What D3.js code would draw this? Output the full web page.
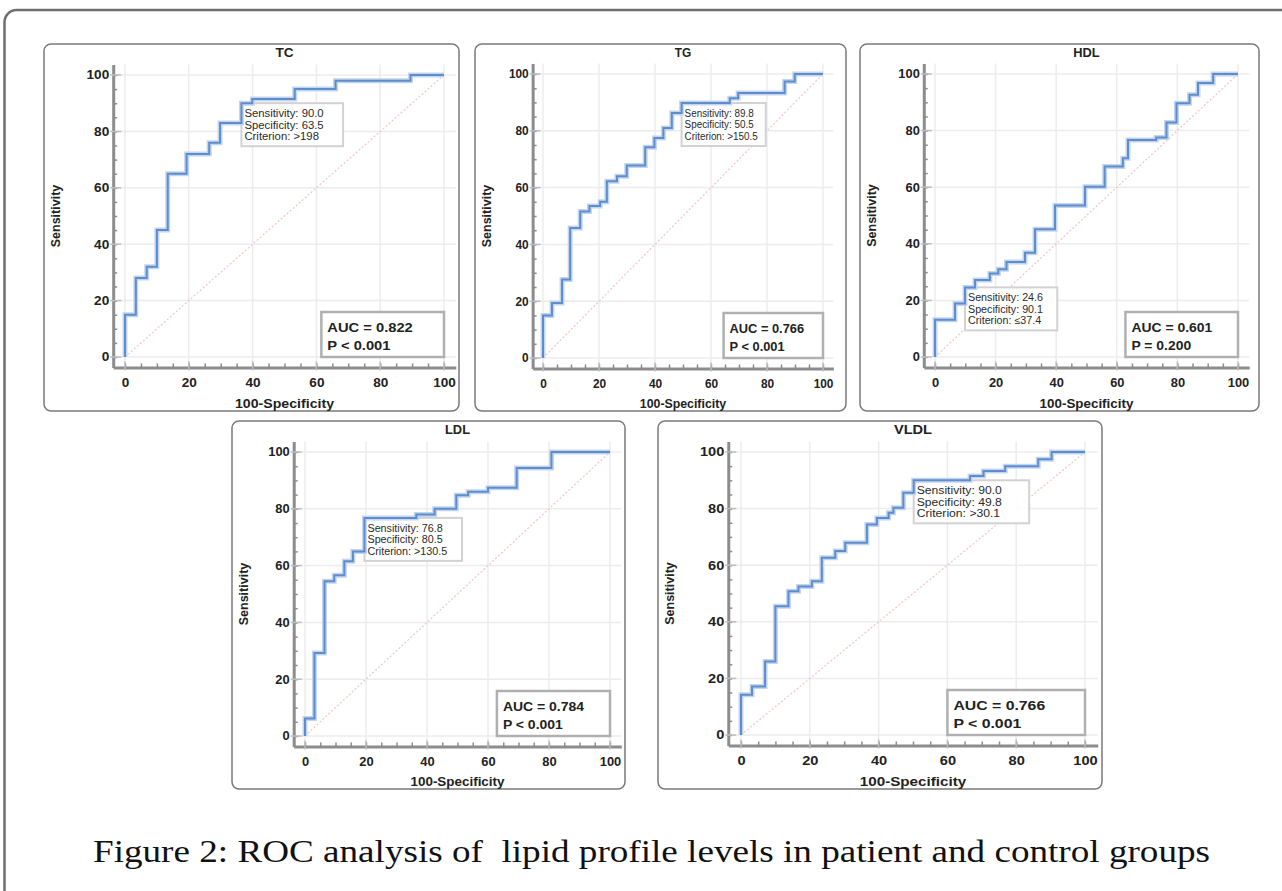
<!DOCTYPE html>
<html>
<head>
<meta charset="utf-8">
<script src="https://cdn.jsdelivr.net/npm/d3@7"></script>
<style>
  body { margin: 0; background: #fff; }
  svg { display: block; }
  text { font-family: "Liberation Sans", Arial, sans-serif; }
  text.caption { font-family: "Liberation Serif", "Times New Roman", serif; white-space: pre; }
</style>
</head>
<body>
<script>
// ROC step corners: x = 100-Specificity, y = Sensitivity
var tcX = [0, 0, 3.4, 6.8, 10, 13.4, 19.3, 26.4, 29.8, 36.5, 39.9, 53.2, 66, 89.5, 100];
var tcY = [0, 15, 28, 32, 45, 65, 72, 76, 83, 90, 91.5, 95, 98, 100, 100];

var tgX = [0, 0, 3.2, 6.8, 9.7, 13.3, 16.6, 20.4, 22.8, 26.4, 29.9, 36.5, 39.8, 43, 46, 49.5, 66.7, 69.7, 86.3, 89.9, 100];
var tgY = [0, 15, 19.4, 27.6, 45.8, 51.6, 53.5, 55, 62.2, 64, 67.8, 74.2, 77.5, 81, 86.3, 89.8, 91.5, 93.3, 97.4, 100, 100];

var hdlX = [0, 0, 6.6, 9.9, 13.2, 18.1, 20.9, 23.6, 29.7, 33, 39.6, 49.5, 56, 62, 63.7, 73, 76.4, 79.7, 84, 86.8, 91.8, 100];
var hdlY = [0, 13.2, 18.9, 24.6, 27.2, 29.5, 31, 33.6, 36.8, 45.1, 53.5, 60.2, 67.3, 70.2, 76.7, 77.6, 82.9, 89.7, 92.7, 96.8, 100, 100];

var ldlX = [0, 0, 3.1, 6.4, 9.6, 12.9, 15.7, 19.5, 36.5, 42.5, 49.6, 53.5, 60, 69.4, 80.8, 100];
var ldlY = [0, 6.2, 29.2, 54.5, 56.6, 61.5, 65, 76.8, 78, 80, 84.8, 86, 87.4, 94.4, 100, 100];

var vldlX = [0, 0, 3.2, 7, 10, 13.8, 16.7, 20.6, 23.5, 27.4, 30.3, 36.6, 39.5, 42.9, 44.3, 47.2, 50.2, 66.6, 70.5, 76.8, 86.4, 90.3, 100];
var vldlY = [0, 14.2, 17.1, 26, 45.5, 50.8, 52.5, 54.3, 62.6, 65, 67.9, 74.4, 76.7, 78.5, 80.3, 85.6, 90, 91.5, 93.3, 95, 97.4, 100, 100];

var panelNames = ["TC", "TG", "HDL", "LDL", "VLDL"];
var curvesX = [tcX, tgX, hdlX, ldlX, vldlX];
var curvesY = [tcY, tgY, hdlY, ldlY, vldlY];
var aucLabels = ["AUC = 0.822", "AUC = 0.766", "AUC = 0.601", "AUC = 0.784", "AUC = 0.766"];
var pLabels = ["P < 0.001", "P < 0.001", "P = 0.200", "P < 0.001", "P < 0.001"];
// optimal cut-off point on each curve (where the criterion box sits)
var cutX = [36.5, 49.5, 9.9, 19.5, 50.2];
var cutY = [90, 89.8, 24.6, 76.8, 90];
var cutLabels = [
  ["Sensitivity: 90.0", "Specificity: 63.5", "Criterion: >198"],
  ["Sensitivity: 89.8", "Specificity: 50.5", "Criterion: >150.5"],
  ["Sensitivity: 24.6", "Specificity: 90.1", "Criterion: \u226437.4"],
  ["Sensitivity: 76.8", "Specificity: 80.5", "Criterion: >130.5"],
  ["Sensitivity: 90.0", "Specificity: 49.8", "Criterion: >30.1"]
];
var majorTicks = [0, 20, 40, 60, 80, 100];
var minorTicks = d3.range(0, 101, 5);
var caption = "Figure 2: ROC analysis of  lipid profile levels in patient and control groups";

// panel frames and where 0 / 100 land on each plot
var layout = [
  {box: [44, 44, 459, 411],  x0: 125, x1: 444,  y0: 357, y1: 75},
  {box: [475, 44, 846, 411], x0: 543, x1: 823,  y0: 358, y1: 74},
  {box: [860, 44, 1259, 411], x0: 935, x1: 1238, y0: 357, y1: 74},
  {box: [232, 421, 625, 789], x0: 305, x1: 610,  y0: 736, y1: 452},
  {box: [658, 421, 1102, 789], x0: 741, x1: 1085, y0: 735, y1: 452}
];

var W = 1282, H = 891;
var svg = d3.select("body").append("svg").attr("width", W).attr("height", H);

// outer figure frame
svg.append("rect")
  .attr("x", 4.5).attr("y", 10).attr("width", 1320).attr("height", 920)
  .attr("rx", 12).attr("fill", "none").attr("stroke", "#6e6e6e").attr("stroke-width", 2.5);

// stretch horizontal text to the panel's aspect
function stretch(sel, sx) {
  sel.each(function() {
    var w = this.getComputedTextLength();
    d3.select(this).attr("textLength", w * sx).attr("lengthAdjust", "spacingAndGlyphs");
  });
}

function drawPanel(i) {
  var L = layout[i];
  var sx = (L.x1 - L.x0) / (L.y0 - L.y1);
  var ext = 3.7;
  var x = d3.scaleLinear().domain([-ext, 100 + ext])
    .range([L.x0 - ext * (L.x1 - L.x0) / 100, L.x1 + ext * (L.x1 - L.x0) / 100]);
  var y = d3.scaleLinear().domain([-ext, 100 + ext])
    .range([L.y0 + ext * (L.y0 - L.y1) / 100, L.y1 - ext * (L.y0 - L.y1) / 100]);
  var left = x(-ext), right = x(100 + ext), top = y(100 + ext), bottom = y(-ext);

  var g = svg.append("g");

  g.append("rect")
    .attr("x", L.box[0]).attr("y", L.box[1])
    .attr("width", L.box[2] - L.box[0]).attr("height", L.box[3] - L.box[1])
    .attr("rx", 7).attr("fill", "#fff").attr("stroke", "#7a7a7a").attr("stroke-width", 1.5);

  // grid
  g.selectAll(".gx").data(majorTicks).enter().append("line")
    .attr("x1", d => x(d)).attr("x2", d => x(d)).attr("y1", top).attr("y2", bottom)
    .attr("stroke", "#ececec").attr("stroke-width", 1.5);
  g.selectAll(".gy").data(majorTicks).enter().append("line")
    .attr("y1", d => y(d)).attr("y2", d => y(d)).attr("x1", left).attr("x2", right)
    .attr("stroke", "#ececec").attr("stroke-width", 1.5);

  // chance line
  g.append("line")
    .attr("x1", x(0)).attr("y1", y(0)).attr("x2", x(100)).attr("y2", y(100))
    .attr("stroke", "#f0c4c4").attr("stroke-width", 1.2).attr("stroke-dasharray", "2,2");

  // axes
  var xAxis = g.append("g").attr("transform", "translate(0," + bottom + ")")
    .call(d3.axisBottom(x).tickValues(majorTicks).tickSize(0).tickSizeOuter(0).tickPadding(11));
  var xMinor = g.append("g").attr("transform", "translate(0," + bottom + ")")
    .call(d3.axisBottom(x).tickValues(minorTicks).tickSize(-4).tickSizeOuter(0).tickFormat(""));
  var yAxis = g.append("g").attr("transform", "translate(" + left + ",0)")
    .call(d3.axisLeft(y).tickValues(majorTicks).tickSize(0).tickSizeOuter(0).tickPadding(4));
  var yMinor = g.append("g").attr("transform", "translate(" + left + ",0)")
    .call(d3.axisLeft(y).tickValues(minorTicks).tickSize(-4).tickSizeOuter(0).tickFormat(""));

  [xAxis, yAxis].forEach(function(a) {
    a.select(".domain").attr("stroke", "#8c8c8c").attr("stroke-width", 3);
    a.selectAll("text").attr("font-size", 12).attr("font-weight", "bold").attr("fill", "#222");
  });
  [xMinor, yMinor].forEach(function(a) {
    a.select(".domain").remove();
    a.selectAll("line").attr("stroke", "#8c8c8c").attr("stroke-width", 1.5);
  });
  // major tick marks crossing the axis lines
  g.selectAll(".mx").data(majorTicks).enter().append("line")
    .attr("x1", d => x(d)).attr("x2", d => x(d)).attr("y1", bottom - 6).attr("y2", bottom + 3)
    .attr("stroke", "#bdbdbd").attr("stroke-width", 1.5);
  g.selectAll(".my").data(majorTicks).enter().append("line")
    .attr("y1", d => y(d)).attr("y2", d => y(d)).attr("x1", left - 3).attr("x2", left + 8)
    .attr("stroke", "#bdbdbd").attr("stroke-width", 1.5);

  // criterion box (under the curve)
  var cb = g.append("g").attr("transform", "translate(" + x(cutX[i]) + "," + y(cutY[i]) + ")");
  var cRect = cb.append("rect").attr("y", 0).attr("height", 43)
    .attr("fill", "#fff").attr("fill-opacity", 0.9).attr("stroke", "#d2d2d2").attr("stroke-width", 2);
  var cText = cb.selectAll("text").data(cutLabels[i]).enter().append("text")
    .attr("x", 3).attr("y", (d, k) => 14 + k * 11.5)
    .attr("font-size", 10).attr("fill", "#2a2a2a").text(d => d);
  stretch(cText, sx);
  var cw = d3.max(cText.nodes(), n => n.getComputedTextLength()) * sx;
  cRect.attr("x", 0).attr("width", cw + 12);

  // ROC curve
  var pts = curvesX[i].map(function(v, k) { return [v, curvesY[i][k]]; });
  var line = d3.line().x(d => x(d[0])).y(d => y(d[1])).curve(d3.curveStepAfter);
  g.append("path").attr("d", line(pts)).attr("fill", "none")
    .attr("stroke", "#c3d5ee").attr("stroke-width", 5);
  g.append("path").attr("d", line(pts)).attr("fill", "none")
    .attr("stroke", "#5d8dcc").attr("stroke-width", 2);

  // AUC box
  var ab = g.append("g");
  var aText = ab.selectAll("text").data([aucLabels[i], pLabels[i]]).enter().append("text")
    .attr("font-size", 13).attr("font-weight", "bold").attr("fill", "#222").text(d => d);
  stretch(aText, sx);
  var aw = d3.max(aText.nodes(), n => n.getComputedTextLength()) * sx + 26;
  var ax = x(100) - aw, ay = y(0) - 45;
  ab.insert("rect", "text").attr("x", ax).attr("y", ay).attr("width", aw).attr("height", 45)
    .attr("fill", "#fff").attr("stroke", "#b0b0b0").attr("stroke-width", 2.5);
  aText.attr("x", ax + 6).attr("y", (d, k) => ay + 20 + k * 18);

  // titles
  var t = g.append("text").attr("x", (x(0) + x(100)) / 2).attr("y", L.box[1] + 13)
    .attr("text-anchor", "middle").attr("font-size", 12).attr("font-weight", "bold")
    .attr("fill", "#222").text(panelNames[i]);
  var xt = g.append("text").attr("x", (x(0) + x(100)) / 2).attr("y", L.box[3] - 3.5)
    .attr("text-anchor", "middle").attr("font-size", 12.5).attr("font-weight", "bold")
    .attr("fill", "#222").text("100-Specificity");
  g.append("text")
    .attr("transform", "translate(" + (L.box[0] + 16) + "," + ((y(0) + y(100)) / 2) + ") rotate(-90)")
    .attr("text-anchor", "middle").attr("font-size", 12.5).attr("font-weight", "bold")
    .attr("fill", "#222").text("Sensitivity");
  stretch(t, sx);
  stretch(xt, sx);
  stretch(xAxis.selectAll("text"), sx);
  stretch(yAxis.selectAll("text"), sx);
}

panelNames.forEach(function(n, i) { drawPanel(i); });

svg.append("text")
  .attr("class", "caption")
  .attr("x", 93).attr("y", 862)
  .attr("font-size", 31).attr("fill", "#111")
  .attr("textLength", 1117).attr("lengthAdjust", "spacingAndGlyphs")
  .text(caption);
</script>
</body>
</html>
